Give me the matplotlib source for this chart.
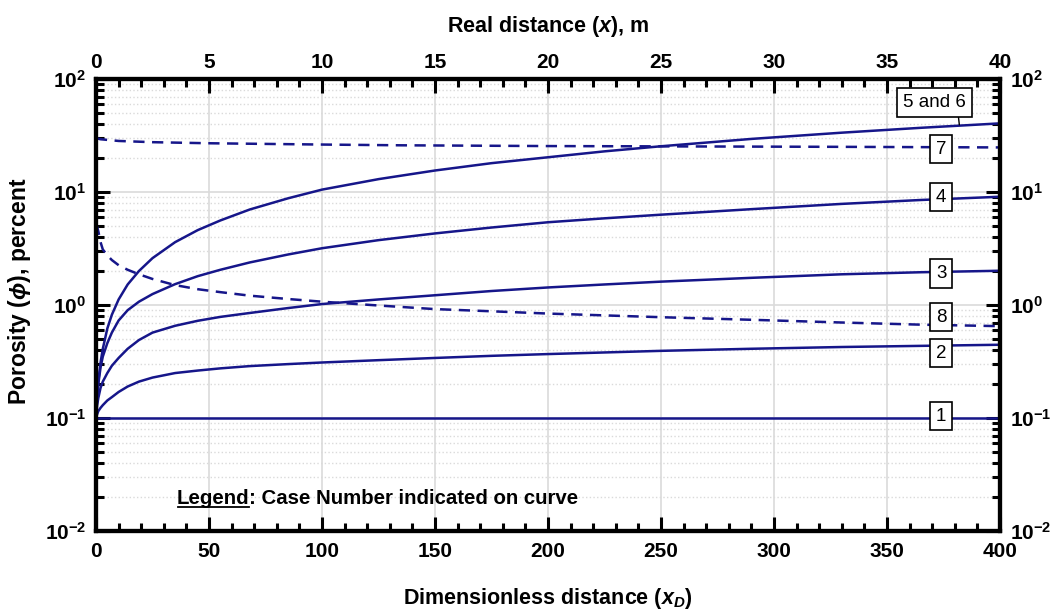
import matplotlib
matplotlib.use('Agg')
import matplotlib.pyplot as plt
from matplotlib.ticker import MultipleLocator, LogLocator, NullFormatter

plt.rcParams['font.family'] = ['Liberation Sans', 'DejaVu Sans']
plt.rcParams['font.weight'] = 'bold'
plt.rcParams['axes.labelweight'] = 'bold'
plt.rcParams['mathtext.fontset'] = 'custom'
plt.rcParams['mathtext.rm'] = 'Liberation Sans:bold'
plt.rcParams['mathtext.bf'] = 'Liberation Sans:bold'
plt.rcParams['mathtext.it'] = 'Liberation Sans:italic:bold'

# values (x_D, porosity in percent)
xd_1 = [0, 400]
phi_1 = [0.1, 0.1]
xd_2 = [0, 0.5, 1, 2, 3, 5, 7, 10, 14, 19, 25, 35, 45, 55, 68, 85, 100, 125, 150, 175,
        200, 250, 290, 330, 365, 400]
phi_2 = [0.1, 0.108, 0.115, 0.123, 0.13, 0.143, 0.153, 0.17, 0.19, 0.21, 0.228, 0.25,
         0.263, 0.275, 0.288, 0.3, 0.31, 0.325, 0.34, 0.355, 0.368, 0.393, 0.41, 0.425,
         0.435, 0.445]
xd_3 = [0, 0.5, 1, 2, 3, 5, 7, 10, 14, 19, 25, 35, 45, 55, 68, 85, 100, 125, 150, 175,
        200, 225, 250, 290, 330, 365, 400]
phi_3 = [0.1, 0.13, 0.15, 0.185, 0.21, 0.25, 0.29, 0.34, 0.41, 0.49, 0.57, 0.655, 0.725,
         0.785, 0.85, 0.94, 1.02, 1.12, 1.22, 1.33, 1.43, 1.52, 1.61, 1.74, 1.87, 1.95, 2.01]
xd_4 = [0, 0.5, 1, 2, 3, 5, 7, 10, 14, 19, 25, 35, 45, 55, 68, 85, 100, 125, 150, 175,
        200, 225, 250, 290, 330, 365, 400]
phi_4 = [0.1, 0.15, 0.2, 0.28, 0.35, 0.46, 0.57, 0.73, 0.9, 1.07, 1.25, 1.53, 1.8, 2.05,
         2.38, 2.8, 3.18, 3.75, 4.3, 4.85, 5.4, 5.85, 6.3, 7.05, 7.85, 8.5, 9.08]
xd_56 = [0, 0.5, 1, 2, 3, 5, 7, 10, 14, 19, 25, 35, 45, 55, 68, 85, 100, 125, 150, 175,
         200, 225, 250, 290, 330, 365, 400]
phi_56 = [0.1, 0.16, 0.21, 0.31, 0.41, 0.62, 0.82, 1.12, 1.52, 2.0, 2.6, 3.6, 4.6, 5.6,
          7.0, 8.8, 10.5, 13.0, 15.5, 18, 20.3, 22.9, 25.4, 29.5, 33.5, 37, 40.5]
xd_7 = [0, 2, 10, 25, 50, 100, 135, 200, 265, 330, 400]
phi_7 = [30, 29.3, 28.3, 27.6, 27, 26.3, 25.9, 25.5, 25.3, 25.1, 24.8]
xd_8 = [0, 0.5, 1, 2, 3, 5, 7, 10, 14, 19, 25, 35, 45, 55, 68, 85, 100, 125, 150, 175,
        200, 250, 290, 330, 365, 400]
phi_8 = [5.2, 4.9, 4.5, 3.6, 3.1, 2.75, 2.5, 2.25, 2.05, 1.87, 1.7, 1.5, 1.38, 1.3, 1.21,
         1.13, 1.07, 0.99, 0.92, 0.88, 0.84, 0.78, 0.74, 0.70, 0.67, 0.65]

case_labels = ['1', '2', '3', '4', '7', '8']
case_label_y = [0.104, 0.376, 1.9, 9.0, 24.0, 0.78]

xticks_bottom = [0, 50, 100, 150, 200, 250, 300, 350, 400]
xticks_top = [0, 5, 10, 15, 20, 25, 30, 35, 40]
yticks = [0.01, 0.1, 1, 10, 100]
ytick_labels = [r'$\mathbf{10^{-2}}$', r'$\mathbf{10^{-1}}$', r'$\mathbf{10^{0}}$',
                r'$\mathbf{10^{1}}$', r'$\mathbf{10^{2}}$']

col = '#16168a'

fig = plt.figure(figsize=(10.53, 6.11), dpi=100)
ax = fig.add_axes([0.0912, 0.1309, 0.8585, 0.7398])
ax.set_yscale('log')

ax.plot(xd_1, phi_1, color=col, lw=1.8)
ax.plot(xd_2, phi_2, color=col, lw=1.8)
ax.plot(xd_3, phi_3, color=col, lw=1.8)
ax.plot(xd_4, phi_4, color=col, lw=1.8)
ax.plot(xd_56, phi_56, color=col, lw=1.8)
ax.plot(xd_7, phi_7, color=col, lw=1.8, dashes=(4.5, 3))
ax.plot(xd_8, phi_8, color=col, lw=1.8, dashes=(4.5, 3))

ax.set_xlim(0, 400)
ax.set_ylim(0.01, 100)

box = dict(boxstyle='square,pad=0.3', fc='white', ec='black', lw=1.2)
for s, y in zip(case_labels, case_label_y):
    ax.text(374, y, s, ha='center', va='center', fontsize=13.5,
            fontweight='normal', bbox=box, zorder=5)
ax.annotate('5 and 6', xy=(382, 39.3), xytext=(371, 62), ha='center', va='center',
            fontsize=13.5, fontweight='normal', bbox=box, zorder=5,
            arrowprops=dict(arrowstyle='-', color='black', lw=1,
                            relpos=(0.87, 0), shrinkA=0, shrinkB=0))

# ticks
ax.set_xticks(xticks_bottom)
ax.xaxis.set_minor_locator(MultipleLocator(10))
ax.set_yticks(yticks)
ax.set_yticklabels(ytick_labels)
ax.yaxis.set_minor_locator(LogLocator(base=10, subs=range(2, 10)))
ax.yaxis.set_minor_formatter(NullFormatter())
ax.tick_params(which='both', direction='in', top=False, right=True,
               labelright=True, labelsize=15)
ax.tick_params(which='major', length=10, width=2.2)
ax.tick_params(which='minor', length=5.5, width=2.2)
ax.tick_params(axis='x', pad=8)
ax.tick_params(axis='y', pad=7)
for sp in ax.spines.values():
    sp.set_linewidth(3)

ax.grid(which='major', color='#dadada', lw=1.2)
ax.grid(which='minor', axis='y', color='#dadada', ls=':', lw=1)
ax.set_axisbelow(True)

ax.set_xlabel(r'Dimensionless distance ($x_D$)', fontsize=15.5)
ax.xaxis.set_label_coords(0.5, -0.121)
ax.set_ylabel(r'Porosity ($\phi$), percent', fontsize=16.5)
ax.yaxis.set_label_coords(-0.07, 0.53)

# top axis in metres
ax2 = ax.twiny()
ax2.set_xlim(0, 40)
ax2.set_xticks(xticks_top)
ax2.xaxis.set_minor_locator(MultipleLocator(1))
ax2.tick_params(which='both', direction='in', labelsize=15, pad=5)
ax2.tick_params(which='major', length=10, width=2.2)
ax2.tick_params(which='minor', length=5.5, width=2.2)
for sp in ax2.spines.values():
    sp.set_linewidth(3)
ax2.set_xlabel(r'Real distance ($x$), m', fontsize=15.5)
ax2.xaxis.set_label_coords(0.5, 1.104)

# legend note with underlined word
t1 = ax.text(35.7, 0.0173, 'Legend', ha='left', va='baseline', fontsize=14.7)
ax.annotate(': Case Number indicated on curve', xy=(1, 0), xycoords=t1,
            ha='left', va='bottom', fontsize=14.7)
fig.canvas.draw()
bb = t1.get_window_extent()
inv = fig.transFigure.inverted()
(x0, y0), (x1, _) = inv.transform([(bb.x0 + 1, bb.y0 + 1), (bb.x1, bb.y0)])
fig.add_artist(plt.Line2D([x0, x1], [y0, y0], transform=fig.transFigure,
                          color='black', lw=1.3))

fig.savefig('out.png', dpi=100)
